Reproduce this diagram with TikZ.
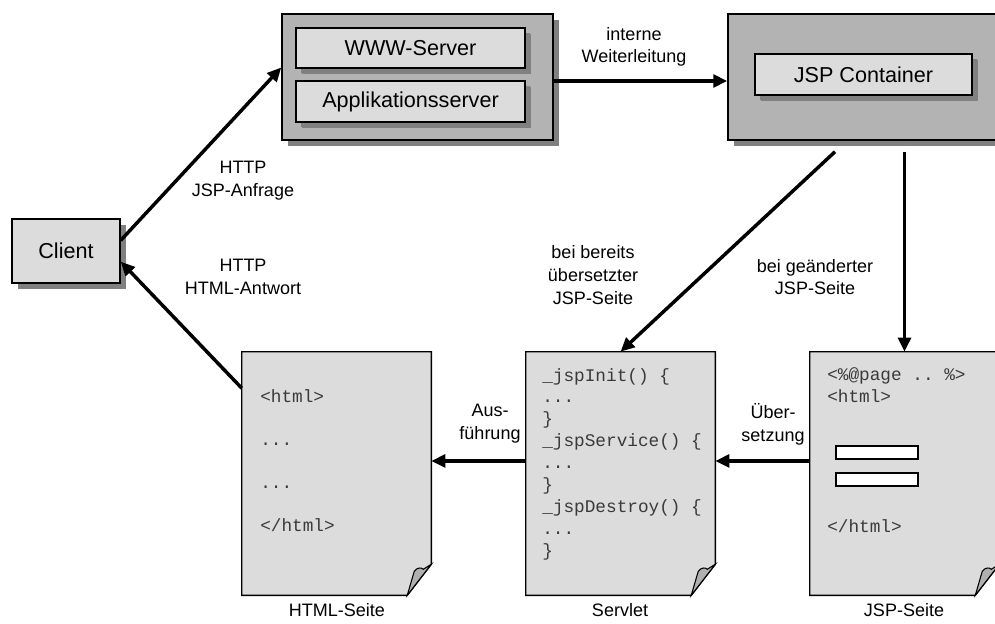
\documentclass[tikz,border=0pt]{standalone}
\usepackage{fontspec}
\setmainfont{Liberation Sans}
\setmonofont{Liberation Mono}
\usetikzlibrary{arrows.meta,shadows,calc}
\definecolor{lightfill}{HTML}{DCDCDC}
\definecolor{darkfill}{HTML}{B3B3B3}
\definecolor{shadowgray}{HTML}{808080}
\definecolor{codegray}{HTML}{3A3A3A}
\definecolor{foldgray}{HTML}{B0B0B0}
\tikzset{
 box/.style={draw=black, line width=1.1pt, fill=lightfill, font=\fontsize{16.2}{19}\selectfont, inner sep=0pt,
   drop shadow={shadow xshift=4.5pt, shadow yshift=-4.5pt, fill=shadowgray, opacity=1}},
 innerbox/.style={box, drop shadow={shadow xshift=3.8pt, shadow yshift=-3.8pt, fill=shadowgray, opacity=1}},
 outerbox/.style={box, fill=darkfill},
 lbl/.style={font=\fontsize{13.5}{17}\selectfont, align=center, inner sep=0pt},
 code/.style={font=\ttfamily\fontsize{13.3}{16}\selectfont, text=codegray, inner sep=0pt, anchor=base west},
 page/.style={inner sep=0pt, minimum width=141.75pt, minimum height=182.25pt},
 conn/.style={line width=2.6pt, -{Triangle[length=10.5pt,width=9.5pt]}},
 inputbox/.style={draw=black, fill=white, line width=0.9pt, inner sep=0pt, minimum width=61.5pt, minimum height=9.75pt},
}
\begin{document}
\begin{tikzpicture}[x=0.75pt,y=-0.75pt]
\useasboundingbox (0,0) rectangle (995,624);

% boxes
\node[box, minimum width=81pt, minimum height=48pt] (client) at (66,251) {Client};
\node[outerbox, minimum width=203.25pt, minimum height=94.5pt] (server) at (417.5,77) {};
\node[innerbox, minimum width=171.75pt, minimum height=30pt] (www) at (410.5,48) {WWW-Server};
\node[innerbox, minimum width=171.75pt, minimum height=30.75pt] (app) at (410.5,101.5) {Applikationsserver};
\node[outerbox, minimum width=202.5pt, minimum height=94.5pt] (jsp) at (863,77) {};
\node[innerbox, minimum width=162.75pt, minimum height=30.75pt] (cont) at (863.5,74.5) {JSP Container};

% pages
\node[page] (html) at (336.5,473.5) {};
\node[page] (servlet) at (620.5,473.5) {};
\node[page] (jsppage) at (904.5,473.5) {};
\foreach \p in {html,servlet,jsppage}{
  \draw[line width=1.1pt, fill=lightfill] (\p.north west) -- (\p.north east) -- ($(\p.south east)+(0,-31)$)
     -- ($(\p.south east)+(-24,0)$) -- (\p.south west) -- cycle;
  \draw[line width=0.8pt, fill=foldgray] ($(\p.south east)+(-24,0)$) -- ($(\p.south east)+(-17,-24)$)
     .. controls ($(\p.south east)+(-14,-28)$) and ($(\p.south east)+(-10,-28)$) .. ($(\p.south east)+(-8,-26)$)
     -- ($(\p.south east)+(0,-31)$) -- cycle;
}

% code in pages
\node[code] (h1) at (260,402) {<html>};
\node[code] (h2) at (260,445) {...};
\node[code] (h3) at (260,488) {...};
\node[code] (h4) at (260,531) {</html>};

\node[code] (sv1) at (542,381) {\_jspInit() \{};
\node[code] (sv2) at (542,402.9) {...};
\node[code] (sv3) at (542,424.8) {\}};
\node[code] (sv4) at (542,446.7) {\_jspService() \{};
\node[code] (sv5) at (542,468.6) {...};
\node[code] (sv6) at (542,490.5) {\}};
\node[code] (sv7) at (542,512.4) {\_jspDestroy() \{};
\node[code] (sv8) at (542,534.3) {...};
\node[code] (sv9) at (542,556.2) {\}};

\node[code] (j1) at (827,380) {<\%@page .. \%>};
\node[code] (j2) at (827,402) {<html>};
\node[inputbox] (in1) at (877,452.5) {};
\node[inputbox] (in2) at (877,479.5) {};
\node[code] (j3) at (827,532) {</html>};

% labels
\node[lbl] (weiter) at (634,47) {interne\\Weiterleitung};
\node[lbl] (anfr) at (243,181) {HTTP\\JSP-Anfrage};
\node[lbl] (antw) at (243,277) {HTTP\\HTML-Antwort};
\node[lbl] (bereits) at (593,275) {bei bereits\\übersetzter\\JSP-Seite};
\node[lbl] (geaend) at (815,277) {bei geänderter\\JSP-Seite};
\node[lbl] (ausf) at (490,424) {Aus-\\führung};
\node[lbl] (ueber) at (773,424) {Über-\\setzung};
\node[lbl] (lhtml) at (337,610) {HTML-Seite};
\node[lbl] (lservlet) at (620,610) {Servlet};
\node[lbl] (ljsp) at (904,610) {JSP-Seite};

% connectors
\coordinate (jspout) at ($(jsp.south)+(0,11)$);
\draw[conn] (client.11) -- (server.176);
\draw[conn] (html.138) -- (client.-11);
\draw[conn] ([yshift=-3pt]server.east) -- ([yshift=-3pt]jsp.west);
\draw[conn] ($(jspout)+(-28,0)$) -- (servlet.north);
\draw[conn] (jsppage.north |- jspout) -- (jsppage.north);
\draw[conn] ([yshift=9.4pt]servlet.west) -- ([yshift=9.4pt]html.east);
\draw[conn] ([yshift=9.4pt]jsppage.west) -- ([yshift=9.4pt]servlet.east);
\end{tikzpicture}
\end{document}
